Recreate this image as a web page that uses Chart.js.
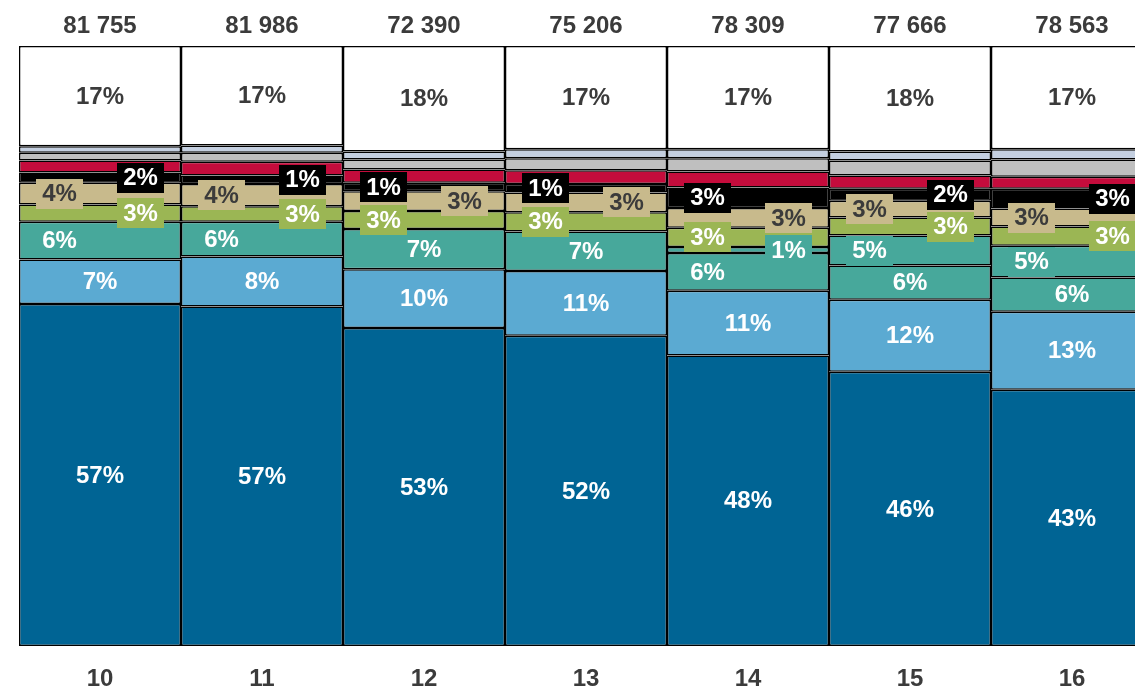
<!DOCTYPE html>
<html>
<head>
<meta charset="utf-8">
<script src="https://cdn.jsdelivr.net/npm/chart.js@4/dist/chart.umd.min.js"></script>
<style>
  html, body { margin: 0; padding: 0; background: #fff; overflow: hidden; }
  #wrap { position: relative; width: 1160px; height: 689px; }
</style>
</head>
<body>
<div id="wrap"><canvas id="chart" width="1160" height="689"></canvas></div>
<script>
// categories and totals shown above each bar
const categories = ["10", "11", "12", "13", "14", "15", "16"];
const totals = [81755, 81986, 72390, 75206, 78309, 77666, 78563];

// shares in %, bottom to top of the stack
const shareDarkBlue  = [57.0, 56.6, 53.0, 51.7, 48.4, 45.7, 42.7];
const shareLightBlue = [7.4, 8.3, 9.8, 10.8, 10.8, 12.0, 13.0];
const shareTealA     = [6.3, 5.8, 6.7, 6.6, 6.3, 5.7, 5.7];
const shareTealB     = [null, null, null, null, 1.0, 5.0, 5.3];
const shareGreen     = [2.9, 2.6, 3.0, 3.2, 3.2, 3.0, 3.2];
const shareTan       = [3.6, 3.7, 3.3, 3.3, 3.3, 2.8, 3.0];
const shareBlack     = [1.7, 1.4, 1.4, 1.4, 3.4, 2.0, 3.3];
const shareRed       = [2.0, 2.3, 2.2, 2.3, 2.7, 2.2, 2.0];
const shareGray      = [1.3, 1.5, 1.7, 2.0, 2.2, 2.5, 2.9];
const shareBlueGray  = [1.1, 1.2, 1.3, 1.5, 1.5, 1.5, 1.7];
const shareWhite     = [16.7, 16.6, 17.6, 17.2, 17.2, 17.6, 17.2];

const FONT = "'Liberation Sans', Arial, sans-serif";
const DARK_TEXT = "#3b3b3b";

// label placement per bar: c = centred, l / r = boxed, shifted left / right
const series = [
  { data: shareDarkBlue,  color: "#006494", text: "#fff",    place: "ccccccc" },
  { data: shareLightBlue, color: "#5baad2", text: "#fff",    place: "ccccccc" },
  { data: shareTealA,     color: "#47a89b", text: "#fff",    place: "llcclcc" },
  { data: shareTealB,     color: "#47a89b", text: "#fff",    place: "----rll" },
  { data: shareGreen,     color: "#9bb654", text: "#fff",    place: "rrlllrr" },
  { data: shareTan,       color: "#c8ba8c", text: DARK_TEXT, place: "llrrrll" },
  { data: shareBlack,     color: "#000000", text: "#fff",    place: "rrlllrr" },
  { data: shareRed,       color: "#c40c3c", text: null,      place: null },
  { data: shareGray,      color: "#bfbfbf", text: null,      place: null },
  { data: shareBlueGray,  color: "#c4cfe0", text: null,      place: null },
  { data: shareWhite,     color: "#ffffff", text: DARK_TEXT, place: "ccccccc" },
];

function formatTotal(n) {
  return String(n).replace(/\B(?=(\d{3})+(?!\d))/g, " ");
}

const segmentLabels = {
  id: "segmentLabels",
  afterDatasetsDraw(chart) {
    const ctx = chart.ctx;
    ctx.save();
    ctx.font = `bold 24px ${FONT}`;
    ctx.textAlign = "center";
    ctx.textBaseline = "middle";

    series.forEach((s, i) => {
      if (!s.place) return;
      const meta = chart.getDatasetMeta(i);
      meta.data.forEach((bar, j) => {
        const v = s.data[j];
        const where = s.place[j];
        if (v === null || where === "-") return;
        const cy = (bar.y + bar.base) / 2;
        let cx = bar.x;
        if (where === "l") cx -= bar.width / 4;
        if (where === "r") cx += bar.width / 4;
        const text = Math.round(v) + "%";
        if (where !== "c") {
          const w = ctx.measureText(text).width + 12;
          ctx.fillStyle = s.color;
          ctx.fillRect(Math.round(cx - w / 2), Math.round(cy - 15), Math.round(w), 30);
        }
        ctx.fillStyle = s.text;
        ctx.fillText(text, cx, cy + 1);
      });
    });

    // totals above the bars
    const meta0 = chart.getDatasetMeta(0);
    ctx.fillStyle = DARK_TEXT;
    meta0.data.forEach((bar, j) => {
      ctx.fillText(formatTotal(totals[j]), bar.x, 26);
    });
    ctx.restore();
  },
};

new Chart(document.getElementById("chart"), {
  type: "bar",
  data: {
    labels: categories,
    datasets: series.map((s) => ({
      data: s.data,
      backgroundColor: s.color,
      borderColor: "#000",
      borderWidth: 1.5,
      borderSkipped: false,
      inflateAmount: 0,
      barPercentage: 1,
      categoryPercentage: 1,
    })),
  },
  options: {
    responsive: false,
    animation: false,
    layout: { padding: { left: 19, right: 7, top: 46, bottom: -15 } },
    plugins: { legend: { display: false }, tooltip: { enabled: false } },
    scales: {
      x: {
        stacked: true,
        grid: { display: false },
        border: { display: false },
        ticks: {
          color: DARK_TEXT,
          padding: 13,
          font: { family: FONT, size: 24, weight: "bold", lineHeight: 1 },
        },
      },
      y: { stacked: true, min: 0, max: 100, display: false },
    },
  },
  plugins: [segmentLabels],
});
</script>
</body>
</html>
